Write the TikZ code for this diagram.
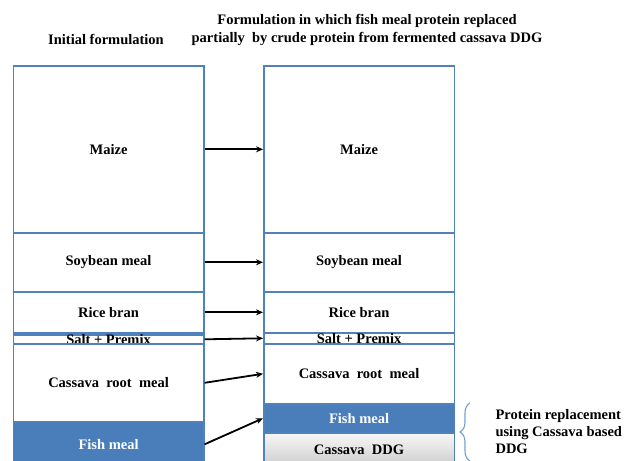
\documentclass[tikz,border=0pt]{standalone}
\usepackage{fontspec}
\setmainfont{Liberation Serif}
\usetikzlibrary{arrows.meta,decorations.pathreplacing}

\newlength{\du}
\setlength{\du}{1pt}

\definecolor{boxblue}{rgb}{0.310000, 0.506000, 0.741000}
\definecolor{fishblue}{rgb}{0.290000, 0.494000, 0.733000}
\definecolor{bracecolor}{rgb}{0.450000, 0.620000, 0.820000}

\tikzset{
  txt/.style={font=\fontsize{14.5}{17}\selectfont\bfseries},
  layer/.style={txt, draw=boxblue, line width=1.6\du, rectangle, inner sep=0pt,
    minimum width=190.5\du, anchor=north west},
  fishlayer/.style={layer, fill=fishblue, text=white},
  ddglayer/.style={layer, top color=gray!6, bottom color=gray!40},
  link/.style={-{Stealth[length=7pt,width=6pt]}, line width=1.8\du, black},
}

\begin{document}
\begin{tikzpicture}[x=1\du,y=-1\du]
\useasboundingbox (0,0) rectangle (625,461);

% headings
\node[txt] (titleL) at (106,39) {Initial formulation};
\node[txt, align=center, font=\fontsize{14.5}{18}\selectfont\bfseries] (titleR) at (367,30)
  {Formulation in which fish meal protein replaced\\partially\ \ by crude protein from fermented cassava DDG};

% initial formulation
\node[layer, minimum height=167\du] (maizeL) at (12.5,65) {Maize};
\node[layer, minimum height=59\du] (soyL) at (12.5,232) {Soybean meal};
\node[layer, minimum height=41\du] (riceL) at (12.5,291) {Rice bran};
\node[layer, minimum height=9\du] (saltL) at (12.5,334) {};
\node[txt] (saltLtxt) at (saltL.center) {Salt + Premix};
\node[layer, minimum height=78\du] (cassL) at (12.5,343) {Cassava\ \ root\ \ meal};
\node[fishlayer, minimum height=45\du] (fishL) at (12.5,421) {Fish meal};

% replaced formulation
\node[layer, minimum height=167\du] (maizeR) at (263,65) {Maize};
\node[layer, minimum height=59\du] (soyR) at (263,232) {Soybean meal};
\node[layer, minimum height=41\du] (riceR) at (263,291) {Rice bran};
\node[layer, minimum height=11\du] (saltR) at (263,332) {};
\node[txt] (saltRtxt) at (saltR.center) {Salt + Premix};
\node[layer, minimum height=60\du] (cassR) at (263,343) {Cassava\ \ root\ \ meal};
\node[fishlayer, minimum height=29\du] (fishR) at (263,403) {Fish meal};
\node[ddglayer, minimum height=34\du] (ddgR) at (263,432) {Cassava\ \ DDG};

% arrows
\draw[link] (maizeL.east) -- (maizeR.west);
\draw[link] (soyL.east) -- (soyR.west);
\draw[link] (riceL.east) -- (riceR.west);
\draw[link] (saltL.east) -- (saltR.west);
\draw[link] (cassL.east) -- (cassR.west);
\draw[link] (fishL.east) -- (fishR.west);

% brace
\coordinate (braceTop) at (470,403);
\coordinate (braceBot) at (470,461);
\draw[bracecolor, line width=1.1\du, decorate, decoration={brace, amplitude=10pt}] (braceBot) -- (braceTop);
\node[txt, anchor=west, align=left] (note) at (492,432)
  {Protein replacement\\using Cassava based\\DDG};
\end{tikzpicture}
\end{document}
